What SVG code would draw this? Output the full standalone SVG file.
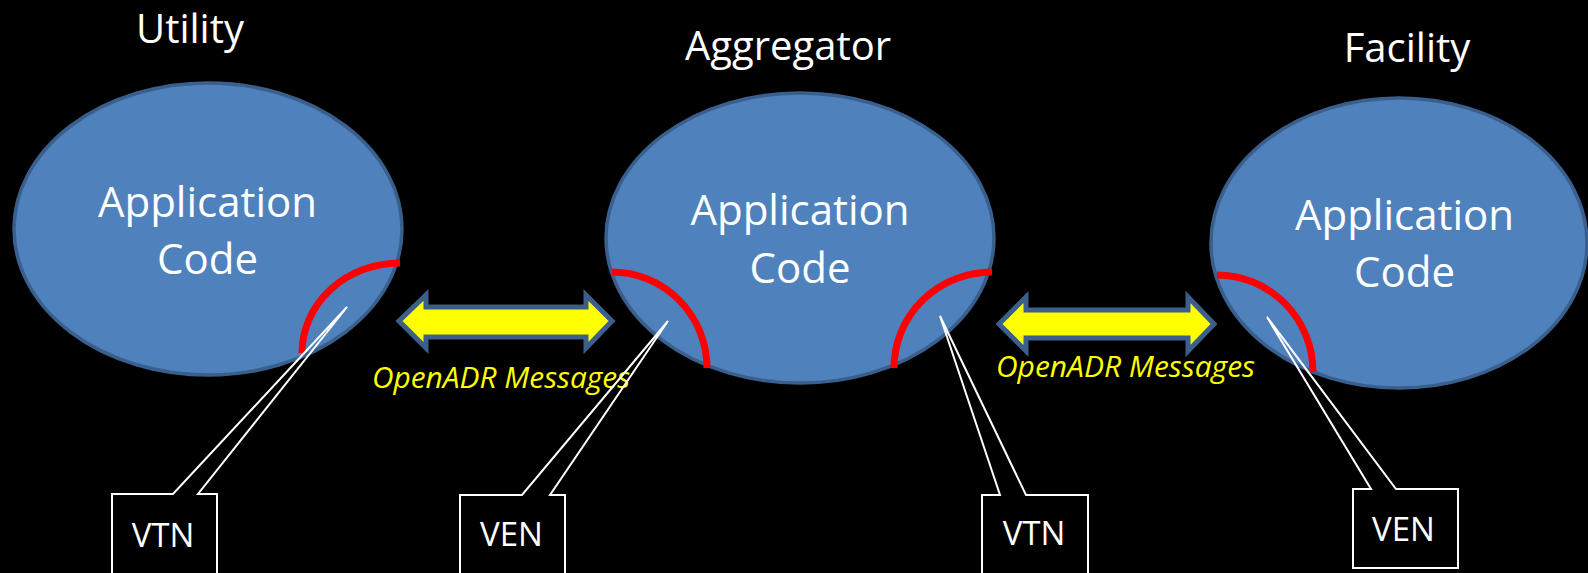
<svg xmlns="http://www.w3.org/2000/svg" width="1588" height="573" viewBox="0 0 1588 573">
<style>
.bg{fill:#000}
.ell{fill:#4F81BD;stroke:#3A5F8C;stroke-width:3.5}
.arc{fill:none;stroke:#FF0000;stroke-width:7}
.title{font-family:"Open Sans","Liberation Sans",sans-serif;font-size:40px;fill:#fff;text-anchor:middle}
.app{font-family:"Open Sans","Liberation Sans",sans-serif;font-size:42px;fill:#fff;text-anchor:middle}
.msg{font-family:"Open Sans","Liberation Sans",sans-serif;font-size:30px;font-style:italic;fill:#FFFF00}
.arrow{fill:#FFFF00;stroke:#3B5F8A;stroke-width:5;stroke-linejoin:miter}
.call{fill:none;stroke:#fff;stroke-width:2}
.lbl{font-family:"Open Sans","Liberation Sans",sans-serif;font-size:33px;fill:#fff;text-anchor:middle}
</style>
<rect class="bg" x="0" y="0" width="1588" height="573"/>

<g id="utility">
  <text class="title" x="190" y="43">Utility</text>
  <ellipse class="ell" cx="208" cy="229" rx="194" ry="146"/>
  <text class="app" x="207.5" y="217">Application</text>
  <text class="app" x="207.5" y="274">Code</text>
  <path class="arc" d="M400,263 A98,90 0 0 0 302,353"/>
</g>

<g id="aggregator">
  <text class="title" x="788" y="60">Aggregator</text>
  <ellipse class="ell" cx="800" cy="238" rx="194" ry="145"/>
  <text class="app" x="800" y="225">Application</text>
  <text class="app" x="800" y="283">Code</text>
  <path class="arc" d="M612,272 A95,96 0 0 1 707,368"/>
  <path class="arc" d="M992,272 A98,96 0 0 0 894,368"/>
</g>

<g id="facility">
  <text class="title" x="1407" y="62">Facility</text>
  <ellipse class="ell" cx="1399" cy="243" rx="188" ry="145"/>
  <text class="app" x="1404.5" y="230">Application</text>
  <text class="app" x="1404.5" y="287">Code</text>
  <path class="arc" d="M1217,275 A96,97 0 0 1 1313,372"/>
</g>

<g id="connectors">
  <path class="arrow" d="M399,321 L426,295 L426,307 L586,307 L586,295 L612,321 L586,348 L586,337 L426,337 L426,348 Z"/>
  <path class="arrow" d="M999,324 L1026,297 L1026,310 L1188,310 L1188,297 L1214,324 L1188,351 L1188,338 L1026,338 L1026,351 Z"/>
  <text class="msg" x="372" y="388" textLength="258" lengthAdjust="spacingAndGlyphs">OpenADR Messages</text>
  <text class="msg" x="996" y="377" textLength="259" lengthAdjust="spacingAndGlyphs">OpenADR Messages</text>
</g>

<g id="vtn-utility">
  <path class="call" d="M112,494 L173,494 L347,307 L198,494 L217,494 L217,600 L112,600 Z"/>
  <text class="lbl" x="163" y="547">VTN</text>
</g>
<g id="ven-aggregator">
  <path class="call" d="M460,495 L522,495 L668,321 L550,495 L565,495 L565,600 L460,600 Z"/>
  <text class="lbl" x="511.5" y="546">VEN</text>
</g>
<g id="vtn-aggregator">
  <path class="call" d="M982,495 L1000,495 L940,316 L1026,495 L1088,495 L1088,600 L982,600 Z"/>
  <text class="lbl" x="1034" y="545">VTN</text>
</g>
<g id="ven-facility">
  <path class="call" d="M1353,489 L1371,489 L1267,317 L1396,489 L1458,489 L1458,568 L1353,568 Z"/>
  <text class="lbl" x="1403.5" y="541">VEN</text>
</g>
</svg>
